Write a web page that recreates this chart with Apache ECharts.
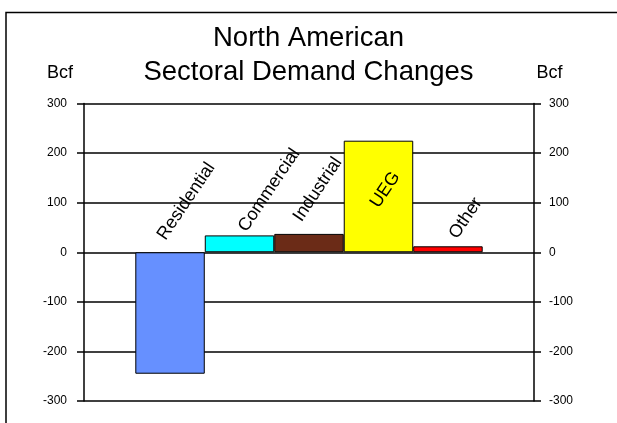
<!DOCTYPE html>
<html>
<head>
<meta charset="utf-8">
<script src="https://cdn.jsdelivr.net/npm/echarts@6/dist/echarts.min.js"></script>
<style>
  html, body { margin: 0; padding: 0; background: #fff; }
  #chart { width: 617px; height: 423px; }
</style>
</head>
<body>
<div id="chart"></div>
<script>
// Sector names and their demand change (Bcf)
const sectors = ['Residential', 'Commercial', 'Industrial', 'UEG', 'Other'];
const changes = [-245, 34, 37, 225, 12];
const yTicks = { min: -300, max: 300, step: 100 };

// Bar fill colours, one per sector
const palette = ['#6690ff', '#00ffff', '#6b2b17', '#ffff00', '#ff0000'];
// Where each slanted sector name starts, in px from its bar's top-left corner
const nameSpot = [[33.6, -9.1], [45, -0.4], [30.5, -9.2], [38, 70.3], [47.3, -4.4]];

const FONT = '"Liberation Sans", Arial, sans-serif';

const chart = echarts.init(document.getElementById('chart'), null, { renderer: 'canvas' });

const valueAxisBase = {
  type: 'value',
  min: yTicks.min,
  max: yTicks.max,
  interval: yTicks.step,
  axisLine: { show: true, lineStyle: { color: '#000', width: 1.5 } },
  axisTick: { show: true, inside: false, length: 7, lineStyle: { color: '#000', width: 1.5 } },
  splitLine: { show: false },
  name: 'Bcf',
  nameLocation: 'end',
  nameGap: 30
};

const series = sectors.map((name, i) => ({
  type: 'bar',
  name: name,
  data: [changes[i]],
  barGap: '0%',
  barCategoryGap: '22.8%',
  itemStyle: { color: palette[i], borderColor: '#000', borderWidth: 1 },
  label: {
    show: true,
    formatter: '{a}',
    position: nameSpot[i],
    rotate: 56,
    align: 'left',
    verticalAlign: 'bottom',
    color: '#000',
    fontFamily: FONT,
    fontSize: 18
  },
  z: 3
}));

chart.setOption({
  animation: false,
  backgroundColor: '#fff',
  title: {
    text: 'North American\nSectoral Demand Changes',
    left: 'center',
    top: 16.5,
    textStyle: { fontFamily: FONT, fontSize: 27.5, fontWeight: 'normal', color: '#000', lineHeight: 34 }
  },
  graphic: [{
    type: 'rect',
    shape: { x: 6, y: 12.5, width: 800, height: 600 },
    style: { fill: null, stroke: '#000', lineWidth: 1.5 },
    silent: true,
    z: 0
  }],
  grid: { left: 84, right: 83, top: 103.5, bottom: 22, containLabel: false },
  xAxis: {
    type: 'category',
    data: [''],
    axisLine: { show: false },
    axisTick: { show: false },
    axisLabel: { show: false },
    splitLine: { show: false }
  },
  yAxis: [
    Object.assign({}, valueAxisBase, {
      position: 'left',
      splitLine: { show: true, lineStyle: { color: '#000', width: 1.5 } },
      axisLabel: { margin: 17, color: '#000', fontFamily: FONT, fontSize: 12 },
      nameTextStyle: { fontFamily: FONT, fontSize: 18, color: '#000', align: 'center', verticalAlign: 'middle', padding: [0, 48, 0, 0] }
    }),
    Object.assign({}, valueAxisBase, {
      position: 'right',
      axisLabel: { margin: 15, color: '#000', fontFamily: FONT, fontSize: 12 },
      nameTextStyle: { fontFamily: FONT, fontSize: 18, color: '#000', align: 'center', verticalAlign: 'middle', padding: [0, 0, 0, 31] }
    })
  ],
  series: series
});
</script>
</body>
</html>
